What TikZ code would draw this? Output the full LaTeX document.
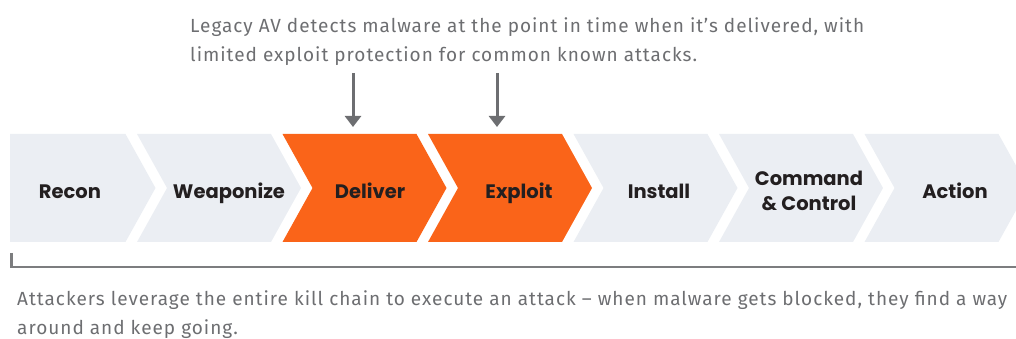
\documentclass[tikz,border=0pt]{standalone}
\usepackage{fontspec}
\setmainfont{Fira Sans}[LetterSpace=5.2]
\newfontfamily\stagefont{Poppins}
\usetikzlibrary{arrows.meta}
\definecolor{chain}{HTML}{EBEEF3}
\definecolor{hit}{HTML}{FA6419}
\definecolor{note}{HTML}{6D6E71}
\definecolor{ink}{HTML}{231F20}
\newcommand{\kcstage}[2]{\fill[#2] (#1,205) -- ++(134,0) -- ++(30,-54) -- ++(-30,-54)
                                 -- ++(-134,0) -- ++(30,54) -- cycle;}

\begin{document}
\begin{tikzpicture}[x=1pt,y=1pt,
    stage/.style={anchor=base,text=ink,font=\stagefont\bfseries\fontsize{19.5}{25}\selectfont},
    notetext/.style={anchor=north west,inner sep=0pt,align=left,text=note,
                     font=\fontsize{19}{29}\selectfont},
    avarrow/.style={-{Triangle[width=16pt,length=11pt]},line width=3pt,draw=note}]
    \useasboundingbox (0,0) rectangle (1016,339);
    %chain
    \fill[chain] (10,205) -- (125.5,205) -- (155.5,151) -- (125.5,97) -- (10,97) -- cycle;
    \kcstage{137}{chain}
    \kcstage{282.5}{hit}
    \kcstage{428}{hit}
    \kcstage{573.5}{chain}
    \kcstage{719}{chain}
    \kcstage{864.5}{chain}
    %stages
    \node[stage] (recon) at (70,140){Recon};
    \node[stage] (weaponize) at (229,140){Weaponize};
    \node[stage] (deliver) at (370,140){Deliver};
    \node[stage] (exploit) at (519,140){Exploit};
    \node[stage] (install) at (659,140){Install};
    \node[stage,anchor=center,align=center] (cc) at (809,148){Command\\\& Control};
    \node[stage] (action) at (955,140){Action};
    % legacy AV
    \node[notetext] (av) at (190,322){Legacy AV detects malware at the point in time when it’s delivered, with\\
                                     limited exploit protection for common known attacks.};
    \coordinate (d from) at (353,266);
    \coordinate (d to) at (353,212);
    \coordinate (e from) at (497,266);
    \coordinate (e to) at (497,212);
    \draw[avarrow] (d from) -- (d to);
    \draw[avarrow] (e from) -- (e to);
    %attackers
    \coordinate (br left) at (11.5,86);
    \coordinate (br right) at (1016,72);
    \draw[line width=2.5pt,draw=note!90] (br left) |- (br right);
    \node[notetext] (atk) at (17,49){Attackers leverage the entire kill chain to execute an attack – when malware gets blocked, they find a way\\
                                     around and keep going.};
\end{tikzpicture}
\end{document}
